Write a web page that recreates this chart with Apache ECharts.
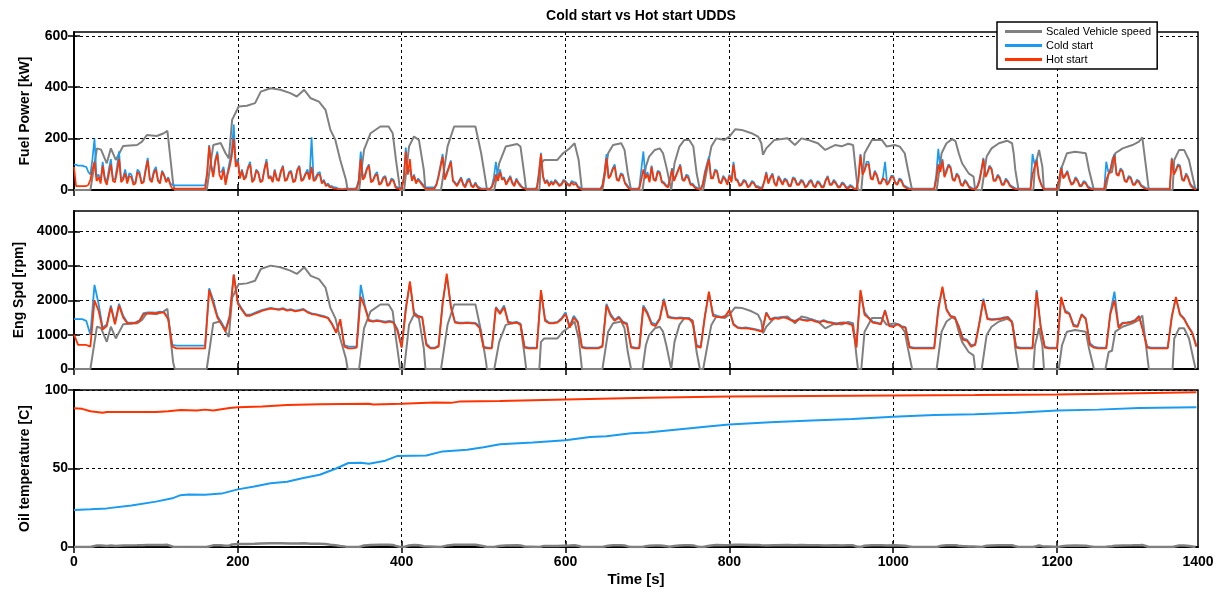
<!DOCTYPE html>
<html><head><meta charset="utf-8">
<script src="https://cdn.jsdelivr.net/npm/echarts/dist/echarts.min.js"></script>
<style>html,body{margin:0;padding:0;background:#fff}#c{width:1224px;height:594px}</style>
</head><body><div id="c"></div>
<script>
// ---------------- DATA ----------------
const TITLE = 'Cold start vs Hot start UDDS';
const LEGEND_NAMES = ['Scaled Vehicle speed', 'Cold start', 'Hot start'];
const X_TICKS = [0, 200, 400, 600, 800, 1000, 1200, 1400];
const POWER_TICKS = [0, 200, 400, 600];
const RPM_TICKS = [0, 1000, 2000, 3000, 4000];
const OIL_TICKS = [0, 50, 100];
const POWER_STEP = 2.5; // seconds between samples of the fuel power traces
const RPM_STEP = 5;     // seconds between samples of the engine speed traces

// Scaled vehicle speed as plotted in the Fuel Power panel [t, value]
const vehicleSpeed = [[0,0],[20,0],[28,162],[33,157],[40,104],[45,162],[51,117],[60,171],[77,175],[83,188],[89,214],[101,210],[109,220],[114,230],[117,143],[121,26],[123,0],[162,0],[170,175],[179,183],[185,143],[189,123],[193,273],[201,325],[211,328],[221,338],[228,383],[240,396],[252,390],[264,377],[272,364],[281,390],[289,357],[299,344],[307,312],[313,234],[319,195],[325,117],[332,39],[334,0],[348,0],[354,156],[362,221],[374,247],[384,247],[389,221],[393,117],[397,26],[398,0],[403,0],[409,170],[415,208],[421,195],[427,78],[429,0],[448,0],[456,170],[464,247],[490,247],[497,143],[503,26],[504,0],[513,0],[519,104],[527,169],[541,179],[545,169],[550,52],[552,0],[568,0],[570,104],[574,117],[590,117],[597,143],[605,162],[611,182],[613,175],[616,117],[619,30],[620,0],[645,0],[652,143],[658,175],[668,182],[672,156],[676,65],[680,0],[694,0],[698,91],[702,130],[709,156],[715,162],[719,143],[723,91],[727,30],[729,0],[733,104],[739,169],[745,195],[751,195],[756,169],[760,65],[764,0],[768,0],[774,104],[778,169],[784,201],[794,195],[800,208],[807,236],[815,234],[827,221],[835,208],[839,182],[841,137],[845,162],[855,195],[871,201],[880,175],[888,201],[896,195],[908,182],[917,156],[929,175],[937,170],[945,180],[951,175],[955,52],[957,0],[961,0],[965,143],[974,195],[986,195],[992,169],[1002,175],[1008,169],[1014,143],[1018,78],[1023,0],[1053,0],[1059,143],[1065,182],[1072,198],[1076,190],[1080,143],[1084,104],[1092,65],[1098,52],[1100,0],[1108,0],[1114,130],[1120,162],[1129,182],[1139,192],[1145,182],[1147,143],[1149,78],[1153,0],[1171,0],[1173,91],[1178,156],[1182,91],[1184,0],[1202,0],[1206,91],[1212,143],[1222,149],[1235,143],[1239,78],[1245,0],[1259,0],[1263,65],[1267,70],[1271,143],[1280,162],[1292,175],[1300,188],[1304,205],[1308,104],[1312,0],[1341,0],[1343,117],[1349,156],[1355,156],[1361,117],[1367,30],[1369,0]];
const SPEED_SCALE_RPM = 7.6;   // same speed trace, scaled for the Eng Spd panel
const SPEED_SCALE_OIL = 0.006; // same speed trace, scaled for the Oil temp panel

// Fuel power [kW], one value every POWER_STEP seconds from t=0 (one line = 100 s)
const coldPower = [
 100,98,95,95,95,92,90,70,60,120,200,50,60,35,110,50,30,80,120,45,40,90,150,40,50,80,35,65,60,30,30,80,70,30,35,85,125,45,40,75,
 90,40,30,75,60,35,50,25,20,18,18,18,18,18,18,18,18,18,18,18,18,18,18,18,18,70,175,100,60,120,150,70,70,90,30,70,110,150,255,100,
 120,50,80,45,60,90,110,35,45,80,70,35,40,85,120,50,55,35,80,45,40,75,95,40,45,70,75,35,40,80,95,40,45,65,80,45,205,40,50,65,
 70,30,40,20,25,15,15,10,10,5,5,3,5,5,5,5,5,5,10,40,150,50,60,85,100,35,40,60,70,25,30,50,55,20,25,45,40,15,10,8,
 8,50,165,70,80,40,60,30,45,35,25,15,10,10,10,10,10,25,60,100,140,45,70,90,115,40,30,20,35,50,25,15,40,45,20,15,30,15,10,5,
 5,5,5,5,15,50,110,45,80,45,50,25,40,55,30,20,45,30,20,10,8,5,5,5,5,5,10,70,145,55,30,40,20,35,25,40,30,20,25,40,
 35,25,20,35,30,30,15,10,5,5,5,5,5,5,5,5,5,5,20,70,140,50,60,85,100,45,40,65,60,30,20,10,5,5,5,5,10,80,150,50,
 70,35,95,45,40,75,70,35,30,20,15,45,85,40,60,80,100,45,40,60,55,25,25,15,10,5,5,25,70,100,130,50,50,80,75,35,30,55,45,25,
 60,35,110,45,40,20,25,40,35,15,20,35,30,15,15,10,10,35,70,30,50,65,30,20,55,40,25,45,40,20,20,50,45,25,25,40,35,15,20,35,
 40,20,15,35,30,15,15,40,55,25,25,40,30,15,15,30,25,12,10,20,15,5,5,50,140,65,80,110,110,50,45,75,60,30,30,50,110,25,35,55,
 55,30,25,45,40,20,15,10,5,5,5,5,5,5,5,5,5,5,5,5,5,60,160,80,120,55,80,100,90,45,40,65,55,25,20,40,30,15,10,5,
 5,15,40,80,125,55,70,95,85,40,40,60,50,25,25,45,35,20,15,10,5,5,5,5,5,5,5,5,140,100,120,55,30,10,5,5,5,5,5,5,
 5,45,90,50,60,75,45,25,30,50,40,20,20,35,30,15,10,5,5,5,5,5,5,5,110,70,80,120,140,65,60,85,75,40,35,55,50,25,25,40,
 35,20,15,10,5,5,5,5,5,5,5,5,5,5,5,5,125,65,80,100,95,45,40,65,50,25,15,10,5];
const hotPower = [
 90,15,15,15,15,15,15,20,40,80,110,35,50,25,95,40,20,60,100,35,30,70,120,30,40,65,25,55,50,20,25,70,60,25,30,75,115,40,30,65,
 80,35,25,70,55,30,45,20,5,5,5,5,5,5,5,5,5,5,5,5,5,5,5,5,5,60,170,90,50,110,140,60,40,80,20,60,90,130,200,90,
 110,45,75,40,50,85,100,30,40,75,65,30,35,80,110,45,50,30,75,40,35,70,90,35,40,65,70,30,35,75,90,35,40,60,70,40,90,35,40,60,
 60,25,35,15,20,10,10,5,5,3,3,3,3,3,3,3,3,3,5,30,120,40,50,80,95,30,35,55,60,20,25,45,50,15,20,40,35,10,5,5,
 5,40,150,60,120,35,55,25,40,30,20,10,5,5,5,5,5,20,50,90,130,40,60,85,110,35,25,15,30,45,20,10,30,40,15,10,25,10,5,3,
 3,3,3,3,10,30,60,35,70,40,45,20,35,50,25,15,40,25,15,8,5,3,3,3,3,3,5,60,140,50,25,35,15,30,20,35,25,15,20,35,
 30,20,15,30,20,25,10,5,3,3,3,3,3,3,3,3,3,3,15,60,125,45,55,80,90,40,35,60,55,25,15,5,3,3,3,3,5,40,80,45,
 60,30,90,40,35,70,65,30,25,15,10,40,80,35,55,75,95,40,35,55,45,20,20,10,5,3,3,20,60,90,120,45,45,75,70,30,25,50,40,20,
 55,30,100,40,35,15,20,35,30,10,15,30,25,10,10,5,5,30,65,25,45,60,25,15,50,35,20,40,35,15,15,45,40,20,20,35,30,10,15,30,
 35,15,10,30,25,10,10,35,50,20,20,35,25,10,10,25,20,8,5,15,10,3,3,40,135,60,75,100,100,45,40,70,55,25,25,45,40,20,30,50,
 50,25,20,40,35,15,10,5,3,3,3,3,3,3,3,3,3,3,3,3,3,40,100,70,115,50,70,95,85,40,35,60,50,20,15,35,25,10,5,3,
 3,10,30,70,120,50,65,90,80,35,35,55,45,20,20,40,30,15,10,5,3,3,3,3,3,3,3,3,60,90,115,50,25,8,3,3,3,3,3,3,
 3,40,85,45,55,70,40,20,25,45,35,15,15,30,25,10,5,3,3,3,3,3,3,3,40,60,75,110,135,60,55,80,70,35,30,50,45,20,20,35,
 30,15,10,5,3,3,3,3,3,3,3,3,3,3,3,3,120,60,75,95,90,40,35,60,45,20,10,5,3];

// Engine speed [rpm], one value every RPM_STEP seconds from t=0 (one line = 100 s)
const coldRpm = [
 1450,1450,1450,1400,1000,2450,1900,1200,1300,1850,1350,1900,1550,1360,1350,1360,1420,1630,1650,1650,
 1640,1670,1650,1480,700,680,680,680,680,680,680,680,680,2350,2000,1550,1350,1150,1550,2750,
 1950,1750,1580,1580,1630,1680,1720,1750,1780,1760,1740,1770,1720,1740,1700,1720,1750,1670,1620,1600,
 1570,1540,1500,1320,1080,1400,700,650,650,660,2450,1850,1430,1400,1420,1400,1380,1400,1370,1150,
 650,1800,2500,1650,1550,1520,750,620,620,680,1950,2700,1850,1380,1350,1350,1360,1350,1340,1250,
 650,620,620,1800,1650,1850,1380,1350,1370,1320,650,620,620,620,2250,1450,1350,1350,1370,1480,
 1650,1250,1550,1380,650,620,620,620,620,680,1900,1600,1430,1530,1380,1330,650,620,620,1850,
 1650,1350,1300,1480,2050,1550,1500,1490,1500,1490,1480,1420,700,650,1550,2200,1600,1550,1520,1550,
 1700,1320,1220,1200,1210,1190,1170,1140,1100,1650,1450,1500,1480,1520,1500,1440,1400,1470,1440,1420,
 1450,1400,1380,1420,1380,1360,1320,1350,1360,1340,1300,650,2250,1650,1500,1380,1350,1320,1720,1280,
 1250,1320,1250,1220,650,620,620,620,620,620,620,1800,2350,1750,1550,1520,1250,900,850,700,
 720,1350,2050,1480,1450,1460,1470,1500,1520,1380,650,620,620,620,620,2300,1250,650,620,620,
 620,2050,1700,1620,1300,1250,1600,1480,750,650,620,620,620,1650,2250,1250,1350,1360,1380,1420,
 1550,1150,650,620,620,620,620,620,1550,2050,1600,1480,1250,1060,680];
const hotRpm = [
 1000,700,700,700,650,2000,1700,1150,1250,1800,1300,1850,1500,1330,1330,1340,1400,1600,1620,1630,
 1620,1650,1640,1450,650,600,600,600,600,600,600,600,600,2300,1900,1500,1300,1100,1500,2750,
 1900,1720,1550,1550,1600,1650,1700,1730,1760,1740,1720,1750,1700,1720,1680,1700,1730,1650,1600,1580,
 1550,1520,1480,1300,1050,1450,650,600,600,620,2100,1800,1400,1380,1400,1380,1350,1380,1350,1100,
 620,1700,2550,1600,1530,1500,700,600,600,650,1900,2780,1800,1350,1330,1330,1340,1330,1320,1200,
 620,600,600,1780,1600,1800,1350,1330,1350,1300,620,600,600,600,2300,1400,1330,1330,1350,1450,
 1600,1200,1500,1350,620,600,600,600,600,650,1850,1550,1400,1500,1350,1300,620,600,600,1800,
 1600,1300,1250,1450,2000,1500,1480,1470,1480,1470,1460,1400,650,620,1500,2250,1550,1520,1500,1530,
 1720,1290,1200,1180,1190,1170,1150,1120,1090,1630,1430,1480,1460,1500,1480,1420,1380,1450,1420,1400,
 1430,1380,1360,1400,1360,1340,1300,1330,1340,1320,1280,620,2300,1580,1480,1350,1330,1300,1700,1250,
 1230,1300,1230,1200,620,600,600,600,600,600,600,1700,2400,1720,1530,1500,1230,850,830,650,
 700,1300,2000,1450,1430,1440,1450,1480,1500,1350,620,600,600,600,600,2250,1200,620,600,600,
 600,2100,1650,1600,1250,1230,1580,1450,700,620,600,600,600,1600,2000,1200,1330,1340,1360,1400,
 1530,1100,620,600,600,600,600,600,1500,2100,1580,1450,1230,1040,650];

// Oil temperature [C], [t, value]
const coldOil = [[0,23.6],[20,24],[40,24.6],[70,26.5],[100,28.9],[120,31],[130,33],[140,33.5],[160,33.3],[180,34],[200,36.7],[220,38.5],[240,40.6],[260,41.5],[280,43.9],[300,46],[320,50],[335,53.5],[350,53.7],[360,53],[380,55],[395,58],[430,58.3],[450,60.9],[480,61.9],[500,63.5],[520,65.5],[560,66.5],[600,68],[630,70],[650,70.5],[680,72.5],[700,73],[740,75],[780,77],[800,78],[850,79.5],[900,80.5],[950,81.5],[1000,83],[1050,84],[1100,84.5],[1150,85.5],[1200,87],[1250,87.5],[1300,88.5],[1370,89]];
const hotOil = [[0,88.3],[10,88],[20,86.5],[35,85.5],[40,86],[60,86],[100,86],[115,86.5],[130,87.2],[150,87],[160,87.5],[170,87],[190,88.5],[200,89],[230,89.5],[260,90.5],[300,91],[360,91.2],[365,90.8],[400,91.3],[440,92],[460,91.8],[470,92.6],[520,93],[600,94],[700,95],[800,95.8],[900,96.2],[1000,96.5],[1100,96.8],[1200,97.2],[1300,98],[1370,98.5]];

// ---------------- CHART ----------------
const X_MAX = 1372;
const GREY = '#808080', BLUE = '#1a9bf0', RED = '#ff3300';
const FONT = 'Liberation Sans, Arial, sans-serif';
const NARROW = 'Liberation Sans Narrow, Liberation Sans, Arial, sans-serif';

const stepSeries = (vals, step) => vals.map((v, i) => [i * step, v]);
const scaled = (pts, k) => pts.map(p => [p[0], p[1] * k]);

const grids = [
  {left: 74, right: 26, top: 32, height: 158},
  {left: 74, right: 26, top: 211, height: 158},
  {left: 74, right: 26, top: 390, height: 157}
].map(g => Object.assign(g, {show: true, borderColor: '#000', borderWidth: 1.5, backgroundColor: '#fff'}));

const dash = {show: true, lineStyle: {color: '#000', type: [3, 3], width: 1}};
const axLine = {show: true, lineStyle: {color: '#000', width: 1.5}};
const tickStyle = {color: '#000', width: 1.5};
const xTickVals = X_TICKS.filter(v => v <= X_MAX);

const xAxes = [], yAxes = [];
for (let g = 0; g < 3; g++) {
  const bottom = g === 2;
  xAxes.push({
    type: 'value', gridIndex: g, min: 0, max: X_MAX, interval: 200,
    axisLine: axLine, splitLine: dash,
    axisTick: {show: true, inside: true, length: 6, lineStyle: tickStyle, customValues: xTickVals},
    axisLabel: {show: bottom, color: '#000', fontFamily: NARROW, fontWeight: 'bold', fontSize: 14, margin: 8,
      formatter: v => v >= X_MAX ? String(X_TICKS[X_TICKS.length - 1]) : (X_TICKS.includes(v) ? String(v) : '')},
    name: bottom ? 'Time [s]' : '', nameLocation: 'middle', nameGap: 25,
    nameTextStyle: {color: '#000', fontFamily: NARROW, fontWeight: 'bold', fontSize: 15}
  });
  xAxes.push({
    type: 'value', gridIndex: g, position: 'top', min: 0, max: X_MAX, interval: 200,
    axisLine: axLine, splitLine: {show: false}, axisLabel: {show: false},
    axisTick: {show: true, inside: true, length: 6, lineStyle: tickStyle, customValues: xTickVals}
  });
}
const yDefs = [
  {max: 615, interval: 200, ticks: POWER_TICKS, name: 'Fuel Power [kW]'},
  {max: 4600, interval: 1000, ticks: RPM_TICKS, name: 'Eng Spd [rpm]'},
  {max: 100, interval: 50, ticks: OIL_TICKS, name: 'Oil temperature [C]'}
];
yDefs.forEach((d, g) => {
  yAxes.push({
    type: 'value', gridIndex: g, min: 0, max: d.max, interval: d.interval,
    axisLine: axLine, splitLine: dash,
    axisTick: {show: true, inside: true, length: 6, lineStyle: tickStyle, customValues: d.ticks},
    axisLabel: {color: '#000', fontFamily: FONT, fontWeight: 'bold', fontSize: 14, margin: 6,
      formatter: v => d.ticks.includes(v) ? String(v) : ''},
    name: d.name, nameLocation: 'middle', nameGap: 42,
    nameTextStyle: {color: '#000', fontFamily: FONT, fontWeight: 'bold', fontSize: 14}
  });
  yAxes.push({
    type: 'value', gridIndex: g, position: 'right', min: 0, max: d.max, interval: d.interval,
    axisLine: axLine, splitLine: {show: false}, axisLabel: {show: false},
    axisTick: {show: true, inside: true, length: 6, lineStyle: tickStyle, customValues: d.ticks}
  });
});

const line = (name, color, data, g, w) => ({
  type: 'line', name, data, xAxisIndex: g * 2, yAxisIndex: g * 2,
  showSymbol: false, symbol: 'none', animation: false,
  lineStyle: {color, width: w || 1.8}, itemStyle: {color}
});

const series = [
  line(LEGEND_NAMES[0], GREY, vehicleSpeed, 0, 2),
  line(LEGEND_NAMES[1], BLUE, stepSeries(coldPower, POWER_STEP), 0, 1.7),
  line(LEGEND_NAMES[2], RED, stepSeries(hotPower, POWER_STEP), 0, 1.7),
  line(LEGEND_NAMES[0], GREY, scaled(vehicleSpeed, SPEED_SCALE_RPM), 1, 2),
  line(LEGEND_NAMES[1], BLUE, stepSeries(coldRpm, RPM_STEP), 1),
  line(LEGEND_NAMES[2], RED, stepSeries(hotRpm, RPM_STEP), 1),
  line(LEGEND_NAMES[0], GREY, scaled(vehicleSpeed, SPEED_SCALE_OIL), 2, 2.5),
  line(LEGEND_NAMES[1], BLUE, coldOil, 2, 2),
  line(LEGEND_NAMES[2], RED, hotOil, 2, 2)
];

const chart = echarts.init(document.getElementById('c'), null, {renderer: 'canvas'});
chart.setOption({
  animation: false,
  backgroundColor: '#fff',
  title: {text: TITLE, left: 636, top: 4, textAlign: 'center',
    textStyle: {color: '#000', fontFamily: FONT, fontWeight: 'bold', fontSize: 14}},
  legend: {
    data: LEGEND_NAMES, orient: 'vertical', left: 997, top: 22,
    backgroundColor: '#fff', borderColor: '#000', borderWidth: 1.5,
    padding: [4, 6, 4, 8], itemGap: 3, itemWidth: 37, itemHeight: 3, icon: 'rect',
    selectedMode: false,
    textStyle: {color: '#000', fontFamily: FONT, fontSize: 11, padding: [0, 0, 0, -1]}
  },
  grid: grids,
  xAxis: xAxes,
  yAxis: yAxes,
  series
});
</script></body></html>
